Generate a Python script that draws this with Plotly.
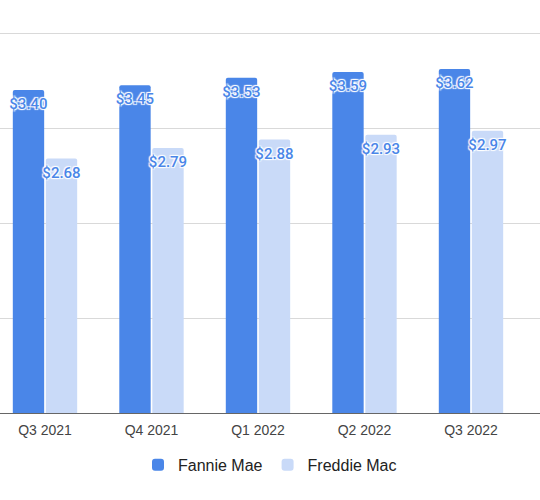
import plotly.graph_objects as go

quarters = ["Q3 2021", "Q4 2021", "Q1 2022", "Q2 2022", "Q3 2022"]
fannie_mae = [3.40, 3.45, 3.53, 3.59, 3.62]
freddie_mac = [2.68, 2.79, 2.88, 2.93, 2.97]

FANNIE_BLUE = "#4a86e8"
FREDDIE_BLUE = "#c9daf8"
HALO = "-1px -1px 1px #fff, 1px -1px 1px #fff, -1px 1px 1px #fff, 1px 1px 1px #fff"

label_font = dict(family="Roboto, Arial, sans-serif", size=15, color=FANNIE_BLUE,
                  weight=500, shadow=HALO)

series = [("Fannie Mae", fannie_mae, FANNIE_BLUE),
          ("Freddie Mac", freddie_mac, FREDDIE_BLUE)]

fig = go.Figure()
for name, vals, color in series:
    fig.add_trace(go.Bar(
        x=quarters, y=vals, name=name, offsetgroup=name,
        marker=dict(color=color, line=dict(width=0), cornerradius=2),
        hoverinfo="skip",
    ))
# value labels just under the top of each bar (grouped scatter lines up with the bars)
for name, vals, color in series:
    fig.add_trace(go.Scatter(
        x=quarters, y=vals, name=name, offsetgroup=name, showlegend=False,
        mode="markers+text", marker=dict(size=11, opacity=0),
        text=[f"${v:.2f}" for v in vals], textposition="bottom center",
        textfont=label_font, hoverinfo="skip", cliponaxis=False,
    ))

fig.update_layout(
    width=540, height=500,
    margin=dict(l=0, r=0, t=5, b=87),
    paper_bgcolor="white", plot_bgcolor="white",
    barmode="group", bargap=0.38, bargroupgap=0.05,
    scattermode="group", scattergap=0.38,
    font=dict(family="Arial, Liberation Sans, sans-serif", color="#444"),
    showlegend=True,
    legend=dict(orientation="h", x=0.5, xanchor="center", y=-0.127, yanchor="middle",
                font=dict(size=16, color="#222"), itemclick=False),
)
fig.update_xaxes(
    range=[-0.4225, 4.648], showline=True, linecolor="#666", linewidth=1,
    showgrid=False, ticks="outside", ticklen=4, tickcolor="rgba(0,0,0,0)",
    tickfont=dict(size=14, color="#444"),
)
fig.update_yaxes(
    range=[0, 408 / 95], dtick=1, showticklabels=False,
    showgrid=True, gridcolor="#d9d9d9", gridwidth=1, zeroline=False,
)

fig.write_html("out.html", config={"displayModeBar": False},
               post_script="document.body.style.margin='0';")
